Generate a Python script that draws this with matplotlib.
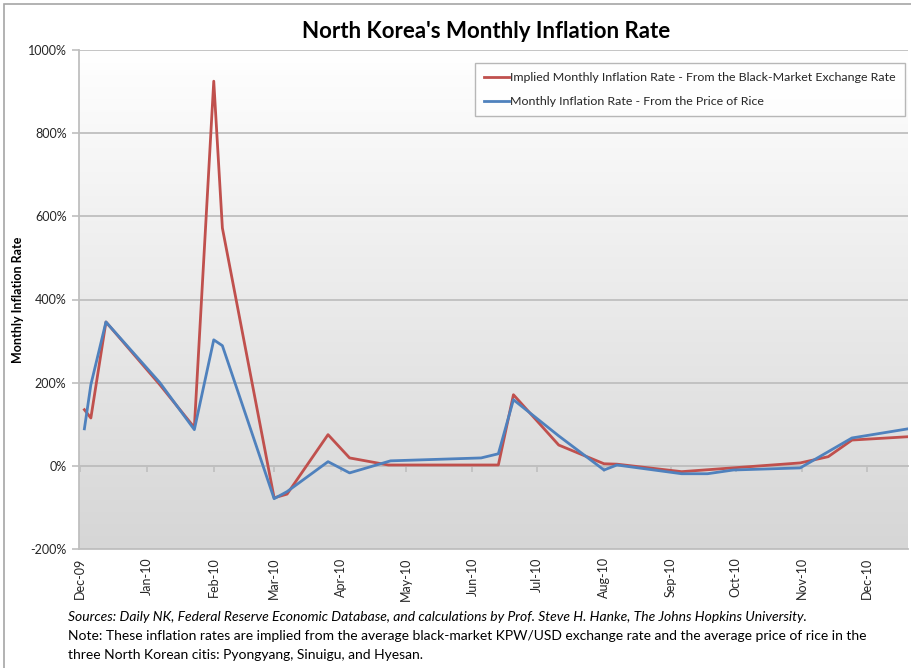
import numpy as np
import pandas as pd
import matplotlib
matplotlib.use('Agg')
import matplotlib.pyplot as plt
import matplotlib.dates as mdates
from matplotlib.patches import Rectangle
from matplotlib.ticker import FuncFormatter, MultipleLocator

plt.rcParams['font.family'] = ['Lato', 'DejaVu Sans']

# Implied monthly inflation from the black-market KPW/USD rate (%)
fx_dates = pd.to_datetime([
    '2009-12-03', '2009-12-06', '2009-12-13', '2010-01-07', '2010-01-23',
    '2010-02-01', '2010-02-05', '2010-03-01', '2010-03-07', '2010-03-26',
    '2010-04-05', '2010-04-23', '2010-06-13', '2010-06-20', '2010-07-11',
    '2010-08-01', '2010-08-07', '2010-09-06', '2010-10-31', '2010-11-13',
    '2010-11-24', '2010-12-20'])
fx_rate = [135, 115, 346, 195, 92,
           925, 572, -77, -68, 75,
           19, 2, 2, 171, 50,
           5, 4, -14, 7, 22,
           62, 70]

# Monthly inflation from the price of rice (%)
rice_dates = pd.to_datetime([
    '2009-12-03', '2009-12-06', '2009-12-13', '2010-01-07', '2010-01-23',
    '2010-02-01', '2010-02-05', '2010-03-01', '2010-03-07', '2010-03-26',
    '2010-04-05', '2010-04-24', '2010-06-05', '2010-06-13', '2010-06-20',
    '2010-07-11', '2010-08-01', '2010-08-07', '2010-09-06', '2010-09-18',
    '2010-09-30', '2010-10-31', '2010-11-24', '2010-12-20'])
rice_rate = [89, 195, 346, 200, 87,
             303, 289, -79, -62, 10,
             -17, 12, 19, 29, 159,
             72, -10, 2, -19, -19,
             -10, -5, 67, 89]

fx_label = 'Implied Monthly Inflation Rate - From the Black-Market Exchange Rate'
rice_label = 'Monthly Inflation Rate - From the Price of Rice'

RED = '#C0504D'
BLUE = '#4F81BD'
GRID = '#BFBFBF'
TEXT = '#262626'

fig = plt.figure(figsize=(9.12, 6.68), dpi=100)
fig.patch.set_facecolor('white')

# thin grey frame around the whole chart
fig.patches.append(Rectangle((4 / 912, -0.1), 1.2, 1 - 4 / 668 + 0.1,
                             transform=fig.transFigure, fill=False,
                             edgecolor='#A6A6A6', linewidth=1.2))

ax = fig.add_axes([79 / 912, 1 - 549 / 668, (908 - 79) / 912, (549 - 50) / 668])

# plot area: white at the top fading to light grey
grad = np.linspace(0, 1, 256).reshape(-1, 1)
ax.imshow(grad, extent=[0, 1, 0, 1], transform=ax.transAxes, aspect='auto',
          cmap=matplotlib.colors.LinearSegmentedColormap.from_list(
              'bg', ['#FFFFFF', '#D6D6D6']), zorder=0)

ax.plot(fx_dates, fx_rate, color=RED, lw=2.0, label=fx_label, zorder=3)
ax.plot(rice_dates, rice_rate, color=BLUE, lw=2.0, label=rice_label, zorder=4)

ax.set_xlim(pd.Timestamp('2009-11-30 12:00'), pd.Timestamp('2010-12-20'))
ax.set_ylim(-200, 1000)
ax.yaxis.set_major_locator(MultipleLocator(200))
ax.yaxis.set_major_formatter(FuncFormatter(lambda v, p: f'{v:.0f}%'))
ax.grid(axis='y', color=GRID, lw=1.3, zorder=1)
ax.set_axisbelow(True)

for s in ['top', 'right']:
    ax.spines[s].set_visible(False)
ax.spines['left'].set_color(GRID)
ax.spines['left'].set_linewidth(1.3)

# category axis crosses at 0%: tick marks there, labels at the bottom
ax.spines['bottom'].set_position(('data', 0))
ax.spines['bottom'].set_color(GRID)
ax.spines['bottom'].set_linewidth(1.3)
ax.xaxis.set_major_locator(mdates.MonthLocator())
ax.tick_params(axis='x', which='both', length=4, color=GRID, width=1.2,
               labelbottom=False)
ax.tick_params(axis='y', length=5, color=GRID, width=1.2, labelsize=9,
               labelcolor=TEXT, pad=4)

secax = ax.secondary_xaxis(0)
secax.xaxis.set_major_locator(mdates.MonthLocator())
secax.xaxis.set_major_formatter(mdates.DateFormatter('%b-%y'))
secax.tick_params(length=0, labelsize=9, labelcolor=TEXT, pad=6)
secax.spines['bottom'].set_color(GRID)
secax.spines['bottom'].set_linewidth(1.3)
for lab in secax.get_xticklabels():
    lab.set_rotation(90)

ax.set_ylabel('Monthly Inflation Rate', fontsize=9, fontweight='bold',
              color='black')
ax.yaxis.set_label_coords((24 - 79) / 829, 0.5)

fig.text(486 / 912, 1 - 32 / 668, "North Korea's Monthly Inflation Rate",
         ha='center', va='center', fontsize=16, fontweight='bold')

leg = ax.legend(loc='upper right', bbox_to_anchor=(0.9965, 0.974), fontsize=8.9,
                frameon=True, fancybox=False, handlelength=2.0,
                handletextpad=0.1, borderpad=0.75, labelspacing=1.05,
                borderaxespad=0)
leg.get_frame().set_edgecolor('#A6A6A6')
leg.get_frame().set_linewidth(1.0)
for t in leg.get_texts():
    t.set_color(TEXT)

fig.text(68 / 912, 1 - 617 / 668,
         'Sources: Daily NK, Federal Reserve Economic Database, and calculations '
         'by Prof. Steve H. Hanke, The Johns Hopkins University.',
         ha='left', va='center', fontsize=10, style='italic', color='black')
fig.text(68 / 912, 1 - 636 / 668,
         'Note: These inflation rates are implied from the average black-market '
         'KPW/USD exchange rate and the average price of rice in the',
         ha='left', va='center', fontsize=10, color='black')
fig.text(68 / 912, 1 - 655 / 668,
         'three North Korean citis: Pyongyang, Sinuigu, and Hyesan.',
         ha='left', va='center', fontsize=10, color='black')

fig.savefig('out.png', dpi=100)
